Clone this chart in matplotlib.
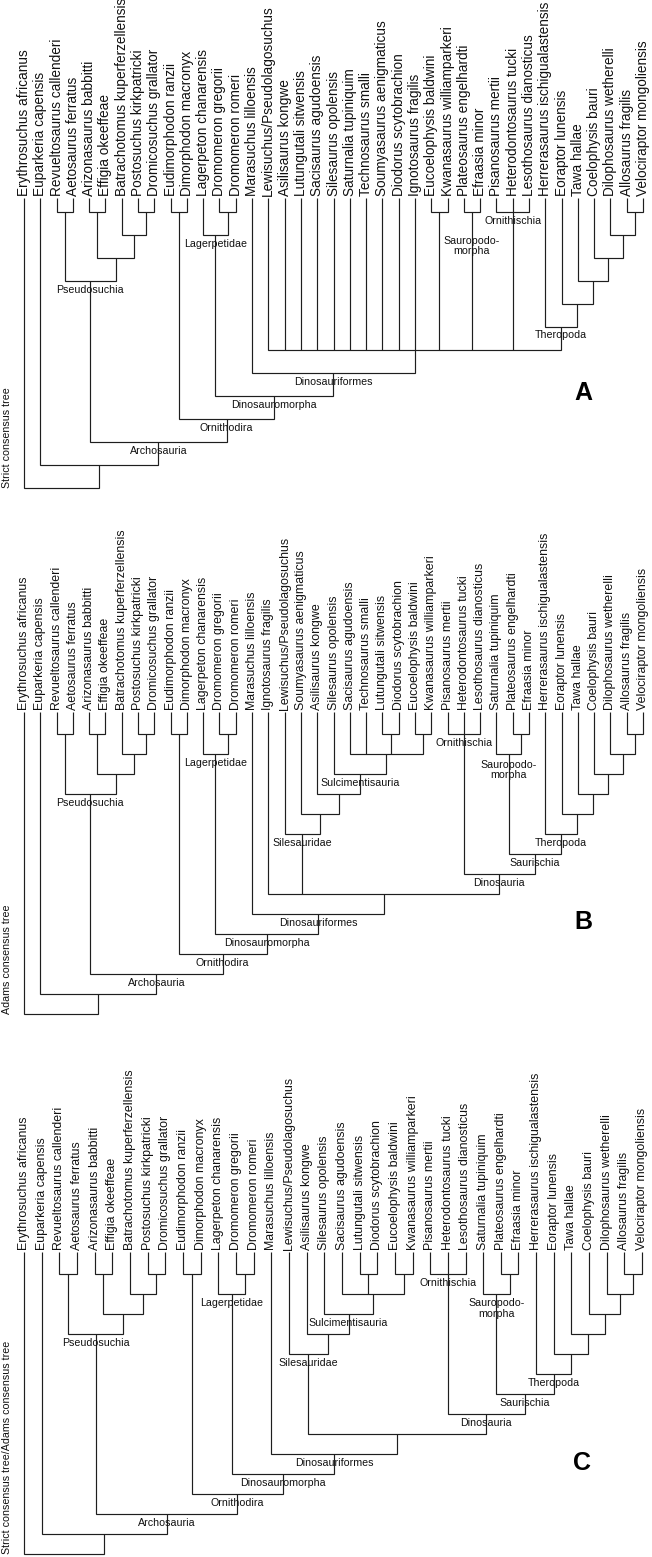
import matplotlib
matplotlib.use("Agg")
import matplotlib.pyplot as plt
from matplotlib import transforms

plt.rcParams['font.family'] = ['Liberation Sans', 'DejaVu Sans']


def clade(name, *kids):
    return (name, list(kids))


# --- tree data -------------------------------------------------------------
pseudosuchia = clade("Pseudosuchia",
                     clade(None, "Revueltosaurus callenderi", "Aetosaurus ferratus"),
                     clade(None,
                           clade(None, "Arizonasaurus babbitti", "Effigia okeeffeae"),
                           clade(None, "Batrachotomus kuperferzellensis",
                                 clade(None, "Postosuchus kirkpatricki", "Dromicosuchus grallator"))))
pterosaurs = clade(None, "Eudimorphodon ranzii", "Dimorphodon macronyx")
lagerpetidae = clade("Lagerpetidae", "Lagerpeton chanarensis",
                     clade(None, "Dromomeron gregorii", "Dromomeron romeri"))
theropoda = clade("Theropoda", "Herrerasaurus ischigualastensis",
                  clade(None, "Eoraptor lunensis",
                        clade(None, "Tawa hallae",
                              clade(None, "Coelophysis bauri",
                                    clade(None, "Dilophosaurus wetherelli",
                                          clade(None, "Allosaurus fragilis", "Velociraptor mongoliensis"))))))
ornithischia = clade("Ornithischia", "Pisanosaurus mertii", "Heterodontosaurus tucki",
                     "Lesothosaurus dianosticus")
dinosauria = clade("Dinosauria", ornithischia,
                   clade("Saurischia",
                         clade("Sauropodo-\nmorpha", "Saturnalia tupiniquim",
                               clade(None, "Plateosaurus engelhardti", "Efraasia minor")),
                         theropoda))


def full_tree(core):
    return clade(None, "Erythrosuchus africanus",
                 clade(None, "Euparkeria capensis",
                       clade("Archosauria", pseudosuchia,
                             clade("Ornithodira", pterosaurs,
                                   clade("Dinosauromorpha", lagerpetidae,
                                         clade("Dinosauriformes", "Marasuchus lilloensis", core))))))


core_a = clade(None, "Lewisuchus/Pseudolagosuchus", "Asilisaurus kongwe", "Lutungutali sitwensis",
               "Sacisaurus agudoensis", "Silesaurus opolensis", "Saturnalia tupiniquim",
               "Technosaurus smalli", "Soumyasaurus aenigmaticus", "Diodorus scytobrachion",
               "Ignotosaurus fragilis",
               clade(None, "Eucoelophysis baldwini", "Kwanasaurus williamparkeri"),
               clade("Sauropodo-\nmorpha", "Plateosaurus engelhardti", "Efraasia minor"),
               ornithischia, theropoda)

core_b = clade(None, "Ignotosaurus fragilis",
               clade("Silesauridae", "Lewisuchus/Pseudolagosuchus",
                     clade(None, "Soumyasaurus aenigmaticus",
                           clade(None, "Asilisaurus kongwe",
                                 clade("Sulcimentisauria", "Silesaurus opolensis",
                                       clade(None, "Sacisaurus agudoensis", "Technosaurus smalli",
                                             clade(None, "Lutungutali sitwensis", "Diodorus scytobrachion"),
                                             clade(None, "Eucoelophysis baldwini", "Kwanasaurus williamparkeri")))))),
               dinosauria)

core_c = clade(None,
               clade("Silesauridae", "Lewisuchus/Pseudolagosuchus",
                     clade(None, "Asilisaurus kongwe",
                           clade("Sulcimentisauria", "Silesaurus opolensis",
                                 clade(None, "Sacisaurus agudoensis",
                                       clade(None, "Lutungutali sitwensis", "Diodorus scytobrachion"),
                                       clade(None, "Eucoelophysis baldwini", "Kwanasaurus williamparkeri"))))),
               dinosauria)

trees = [full_tree(core_a), full_tree(core_b), full_tree(core_c)]
side_titles = ["Strict consensus tree", "Adams consensus tree",
               "Strict consensus tree/Adams consensus tree"]
letters = ["A", "B", "C"]

# --- layout (pixels of the 652 x 1557 figure) -----------------------------
W, H = 652, 1557
panels = [
    dict(top=0, bottom=510, x0=24, step=16.29, lev1=212, dlev=23, tip=198, leaf_fs=9.8,
         letter_xy=(583, 393), drop={"Sauropodo-\nmorpha": 24.5, "Theropoda": 5.5}),
    dict(top=510, bottom=1030, x0=24, step=16.29, lev1=734, dlev=20, tip=712, leaf_fs=8.9,
         letter_xy=(583, 922), drop={"Sauropodo-\nmorpha": 11.5}),
    dict(top=1030, bottom=H, x0=24, step=17.66, lev1=1274, dlev=20, tip=1252, leaf_fs=8.9,
         letter_xy=(582, 1463), drop={"Sauropodo-\nmorpha": 10.5}),
]

LINE = "#1e1e1e"
LW = 0.85


def layout(node, leaves, nodes):
    if isinstance(node, str):
        leaves.append(node)
        return float(len(leaves) - 1), 0
    name, kids = node
    pos = [layout(k, leaves, nodes) for k in kids]
    level = max(p[1] for p in pos) + 1
    x = (pos[0][0] + pos[-1][0]) / 2
    nodes.append((name, x, level, pos))
    return x, level


fig = plt.figure(figsize=(W / 100, H / 100), dpi=100)

for tree, title, letter, p in zip(trees, side_titles, letters, panels):
    ax = fig.add_axes([0, 1 - p["bottom"] / H, 1, (p["bottom"] - p["top"]) / H])
    ax.axis("off")
    lev = lambda px: (px - (p["lev1"] - p["dlev"])) / p["dlev"]
    ax.set_xlim(-p["x0"] / p["step"], (W - p["x0"]) / p["step"])
    ax.set_ylim(lev(p["bottom"]), lev(p["top"]))
    tip = lev(p["tip"])

    leaves, nodes = [], []
    layout(tree, leaves, nodes)

    for name, x, level, pos in nodes:
        ys = [tip if cl == 0 else cl for _, cl in pos]
        x_first, x_last = pos[0][0], pos[-1][0]
        ax.plot([x_first, x_first, x_last, x_last], [ys[0], level, level, ys[-1]],
                color=LINE, lw=LW, solid_joinstyle="miter", solid_capstyle="butt")
        for (cx, _), cy in zip(pos[1:-1], ys[1:-1]):
            ax.plot([cx, cx], [cy, level], color=LINE, lw=LW, solid_capstyle="butt")
        if name:
            ax.annotate(name, (x, level), xytext=(0, -p["drop"].get(name, 6.8)),
                        textcoords="offset points", ha="center", va="center",
                        fontsize=7.7, linespacing=1.05, color="#111111")

    for i, leaf in enumerate(leaves):
        ax.annotate(leaf, (i, tip), xytext=(0, 1.2), textcoords="offset points",
                    rotation=90, ha="center", va="bottom", fontsize=p["leaf_fs"],
                    color="#111111")

    root_level = nodes[-1][2]
    trans = transforms.blended_transform_factory(ax.transAxes, ax.transData)
    ax.text(7 / W, root_level, title, transform=trans, rotation=90, ha="center",
            va="bottom", fontsize=7.7, color="#111111")

    lx, ly = p["letter_xy"]
    fig.text(lx / W, 1 - ly / H, letter, ha="center", va="center", fontsize=18,
             fontweight="bold")

fig.savefig("out.png", dpi=100)
